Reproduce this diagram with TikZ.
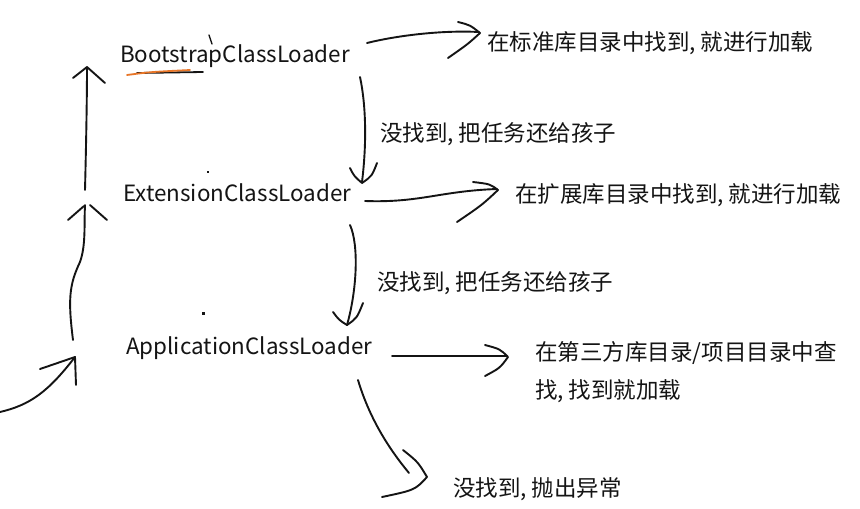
\documentclass[tikz,border=0pt]{standalone}
\usepackage{fontspec}
\setmainfont{Noto Sans CJK SC}
\newcommand\latf{\fontsize{22.4}{26}\selectfont}
\newcommand\cjkf{\fontsize{22.5}{28}\selectfont}
\definecolor{ink}{RGB}{20,20,20}
\definecolor{hilite}{RGB}{232,118,40}
\tikzset{
  pen/.style={draw=ink, line width=1.9pt, line cap=round, line join=round},
  latlabel/.style={font=\latf, text=ink, inner sep=0pt, anchor=base west},
  cjklabel/.style={font=\cjkf, text=ink, inner sep=0pt, anchor=base west},
}
\begin{document}
\begin{tikzpicture}[x=1pt, y=-1pt]
\useasboundingbox[fill=white] (0,0) rectangle (860,509);

% class loader labels
\node[latlabel] (boot) at (120,62) {BootstrapClassLoader};
\node[latlabel] (ext)  at (123,201) {ExtensionClassLoader};
\node[latlabel] (app)  at (126,354) {ApplicationClassLoader};

% texts
\node[cjklabel] (t1) at (487,50) {在标准库目录中找到, 就进行加载};
\node[cjklabel] (c1) at (380,141) {没找到, 把任务还给孩子};
\node[cjklabel] (t2) at (515,202) {在扩展库目录中找到, 就进行加载};
\node[cjklabel] (c2) at (377,290) {没找到, 把任务还给孩子};
\node[cjklabel] (t3) at (535,360) {在第三方库目录/项目目录中查};
\node[cjklabel] (t3b) at (535,398) {找, 找到就加载};
\node[cjklabel] (ex) at (453,496) {没找到, 抛出异常};

% named coordinates for hand-drawn strokes
\coordinate (a1s) at (367,43);  \coordinate (a1e) at (479,32);
\coordinate (a2s) at (365,201); \coordinate (a2e) at (497,189);
\coordinate (a3s) at (392,356); \coordinate (a3e) at (507,356);
\coordinate (d1s) at (360,77);  \coordinate (d1e) at (362,182);
\coordinate (d2s) at (350,225); \coordinate (d2e) at (347,325);
\coordinate (d3s) at (358,380); \coordinate (d3e) at (409,473);
\coordinate (u1s) at (85,190);  \coordinate (u1e) at (87,67);
\coordinate (u2s) at (73,340);  \coordinate (u2e) at (85,205);
\coordinate (u3s) at (0,412);   \coordinate (u3e) at (75,357);

% right arrows
\draw[pen] (a1s) .. controls (395,36) and (440,30) .. (a1e);
\draw[pen] (458,22) .. controls (470,25) .. (480,33) .. controls (468,44) .. (448,58);
\draw[pen] (a2s) .. controls (420,203) and (440,191) .. (a2e);
\draw[pen] (473,182) .. controls (490,184) .. (498,190) .. controls (482,205) .. (457,222);
\draw[pen] (a3s) -- (a3e);
\draw[pen] (485,345) .. controls (500,349) .. (508,357) .. controls (500,368) .. (485,376);

% down arrows
\draw[pen] (d1s) .. controls (367,110) and (366,150) .. (d1e);
\draw[pen] (350,168) .. controls (354,176) .. (362,183) .. controls (372,176) .. (377,163);
\draw[pen] (d2s) .. controls (359,245) and (357,290) .. (d2e);
\draw[pen] (333,312) .. controls (339,320) .. (347,325) .. controls (357,318) .. (363,303);
\draw[pen] (d3s) .. controls (370,420) and (390,450) .. (d3e);
\draw[pen] (403,450) .. controls (418,462) .. (427,477) .. controls (415,490) .. (382,497);

% left upward arrows
\draw[pen] (u1s) .. controls (86,150) and (87,100) .. (u1e);
\draw[pen] (73,78) -- (87,67) -- (105,83);
\draw[pen] (u2s) .. controls (68,300) and (69,285) .. (80,262) .. controls (86,245) and (84,225) .. (u2e);
\draw[pen] (68,220) -- (84,206);
\draw[pen] (90,205) -- (107,220);
\draw[pen] (u3s) .. controls (30,405) and (48,392) .. (u3e);
\draw[pen] (40,369) -- (75,357) -- (76,385);

% underline marks and specks
\draw[draw=ink, line width=1.8pt, line cap=round] (137,73) -- (203,72);
\draw[draw=hilite, line width=1.8pt, line cap=round] (127,75) .. controls (150,72) .. (190,70);
\draw[draw=ink, line width=1.3pt, line cap=round] (209,35) -- (212,44);
\fill[ink] (201.5,311.5) rectangle (204.5,314.5);
\fill[ink] (207,171) rectangle (209,173);
\end{tikzpicture}
\end{document}
